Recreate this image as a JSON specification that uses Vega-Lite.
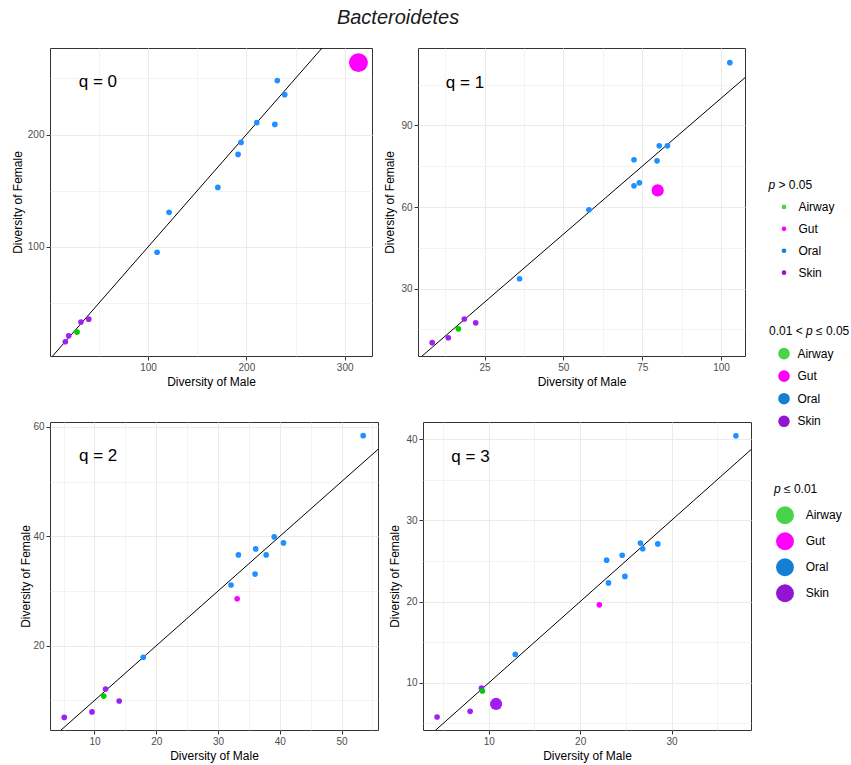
{
  "$schema": "https://vega.github.io/schema/vega-lite/v6.json",
  "padding": {"left": 10, "top": 7, "right": 5, "bottom": 5},
  "title": {"text": "Bacteroidetes", "anchor": "middle", "dx": -32, "offset": 20},
  "config": {
    "font": "Liberation Sans",
    "view": {"stroke": "#333333", "strokeWidth": 1},
    "axis": {"domain": false, "grid": true, "tickCount": 40, "tickColor": "#333333", "tickSize": 4, "tickWidth": 1, "labelColor": "#4d4d4d", "labelFontSize": 10, "labelFont": "Liberation Sans", "titleFont": "Liberation Sans", "titleFontSize": 12, "titleFontWeight": "normal", "titleColor": "#000000", "gridColor": "#ebebeb", "labelPadding": 2, "titlePadding": 4, "labelFlush": false, "labelOverlap": false},
    "title": {"fontSize": 20, "fontStyle": "italic", "fontWeight": "normal", "color": "#1a1a1a", "font": "Liberation Sans"},
    "text": {"font": "Liberation Sans"}
  },
  "datasets": {
    "pts": [
      {"q": 0, "site": "Skin", "sig": "ns", "male": 39.7, "female": 35.8},
      {"q": 0, "site": "Skin", "sig": "ns", "male": 31.8, "female": 33.2},
      {"q": 0, "site": "Skin", "sig": "ns", "male": 19.3, "female": 21.0},
      {"q": 0, "site": "Skin", "sig": "ns", "male": 15.9, "female": 15.7},
      {"q": 0, "site": "Airway", "sig": "ns", "male": 27.8, "female": 24.3},
      {"q": 0, "site": "Oral", "sig": "ns", "male": 231.5, "female": 248.0},
      {"q": 0, "site": "Oral", "sig": "ns", "male": 239.0, "female": 235.5},
      {"q": 0, "site": "Oral", "sig": "ns", "male": 210.6, "female": 210.6},
      {"q": 0, "site": "Oral", "sig": "ns", "male": 229.0, "female": 209.0},
      {"q": 0, "site": "Oral", "sig": "ns", "male": 194.6, "female": 193.0},
      {"q": 0, "site": "Oral", "sig": "ns", "male": 191.6, "female": 182.3},
      {"q": 0, "site": "Oral", "sig": "ns", "male": 171.0, "female": 153.0},
      {"q": 0, "site": "Oral", "sig": "ns", "male": 121.4, "female": 130.8},
      {"q": 0, "site": "Oral", "sig": "ns", "male": 109.2, "female": 95.3},
      {"q": 0, "site": "Gut", "sig": "high", "male": 314.0, "female": 264.0},
      {"q": 1, "site": "Skin", "sig": "ns", "male": 18.6, "female": 18.8},
      {"q": 1, "site": "Skin", "sig": "ns", "male": 22.2, "female": 17.4},
      {"q": 1, "site": "Skin", "sig": "ns", "male": 13.5, "female": 11.9},
      {"q": 1, "site": "Skin", "sig": "ns", "male": 8.4, "female": 10.1},
      {"q": 1, "site": "Airway", "sig": "ns", "male": 16.7, "female": 15.2},
      {"q": 1, "site": "Oral", "sig": "ns", "male": 102.8, "female": 113.1},
      {"q": 1, "site": "Oral", "sig": "ns", "male": 80.4, "female": 82.5},
      {"q": 1, "site": "Oral", "sig": "ns", "male": 83.0, "female": 82.5},
      {"q": 1, "site": "Oral", "sig": "ns", "male": 72.4, "female": 77.4},
      {"q": 1, "site": "Oral", "sig": "ns", "male": 79.7, "female": 77.0},
      {"q": 1, "site": "Oral", "sig": "ns", "male": 74.1, "female": 68.9},
      {"q": 1, "site": "Oral", "sig": "ns", "male": 72.4, "female": 67.8},
      {"q": 1, "site": "Oral", "sig": "ns", "male": 58.1, "female": 59.0},
      {"q": 1, "site": "Oral", "sig": "ns", "male": 36.1, "female": 33.6},
      {"q": 1, "site": "Gut", "sig": "mid", "male": 79.9, "female": 66.1},
      {"q": 2, "site": "Skin", "sig": "ns", "male": 11.8, "female": 12.1},
      {"q": 2, "site": "Skin", "sig": "ns", "male": 14.0, "female": 9.9},
      {"q": 2, "site": "Skin", "sig": "ns", "male": 9.6, "female": 7.9},
      {"q": 2, "site": "Skin", "sig": "ns", "male": 5.1, "female": 6.9},
      {"q": 2, "site": "Airway", "sig": "ns", "male": 11.5, "female": 10.8},
      {"q": 2, "site": "Oral", "sig": "ns", "male": 53.5, "female": 58.4},
      {"q": 2, "site": "Oral", "sig": "ns", "male": 39.1, "female": 39.9},
      {"q": 2, "site": "Oral", "sig": "ns", "male": 40.6, "female": 38.8},
      {"q": 2, "site": "Oral", "sig": "ns", "male": 36.1, "female": 37.7},
      {"q": 2, "site": "Oral", "sig": "ns", "male": 33.3, "female": 36.6},
      {"q": 2, "site": "Oral", "sig": "ns", "male": 37.8, "female": 36.6},
      {"q": 2, "site": "Oral", "sig": "ns", "male": 36.0, "female": 33.1},
      {"q": 2, "site": "Oral", "sig": "ns", "male": 32.1, "female": 31.1},
      {"q": 2, "site": "Oral", "sig": "ns", "male": 17.9, "female": 17.9},
      {"q": 2, "site": "Gut", "sig": "ns", "male": 33.1, "female": 28.6},
      {"q": 3, "site": "Skin", "sig": "ns", "male": 9.2, "female": 9.35},
      {"q": 3, "site": "Skin", "sig": "mid", "male": 10.8, "female": 7.4},
      {"q": 3, "site": "Skin", "sig": "ns", "male": 7.96, "female": 6.5},
      {"q": 3, "site": "Skin", "sig": "ns", "male": 4.34, "female": 5.8},
      {"q": 3, "site": "Airway", "sig": "ns", "male": 9.3, "female": 9.0},
      {"q": 3, "site": "Oral", "sig": "ns", "male": 37.05, "female": 40.4},
      {"q": 3, "site": "Oral", "sig": "ns", "male": 26.6, "female": 27.2},
      {"q": 3, "site": "Oral", "sig": "ns", "male": 28.5, "female": 27.1},
      {"q": 3, "site": "Oral", "sig": "ns", "male": 26.85, "female": 26.5},
      {"q": 3, "site": "Oral", "sig": "ns", "male": 24.6, "female": 25.7},
      {"q": 3, "site": "Oral", "sig": "ns", "male": 22.9, "female": 25.1},
      {"q": 3, "site": "Oral", "sig": "ns", "male": 24.9, "female": 23.1},
      {"q": 3, "site": "Oral", "sig": "ns", "male": 23.1, "female": 22.3},
      {"q": 3, "site": "Oral", "sig": "ns", "male": 12.9, "female": 13.5},
      {"q": 3, "site": "Gut", "sig": "ns", "male": 22.1, "female": 19.6}
    ],
    "leg": [
      {"grp": "g1", "key": "t", "pre": "", "it": "p", "post": "> 0.05"},
      {"grp": "g1", "key": "Airway", "site": "Airway"},
      {"grp": "g1", "key": "Gut", "site": "Gut"},
      {"grp": "g1", "key": "Oral", "site": "Oral"},
      {"grp": "g1", "key": "Skin", "site": "Skin"},
      {"grp": "g2", "key": "t", "pre": "0.01 <", "it": "p", "post": "≤ 0.05"},
      {"grp": "g2", "key": "Airway", "site": "Airway"},
      {"grp": "g2", "key": "Gut", "site": "Gut"},
      {"grp": "g2", "key": "Oral", "site": "Oral"},
      {"grp": "g2", "key": "Skin", "site": "Skin"},
      {"grp": "g3", "key": "t", "pre": "", "it": "p", "post": "≤ 0.01"},
      {"grp": "g3", "key": "Airway", "site": "Airway"},
      {"grp": "g3", "key": "Gut", "site": "Gut"},
      {"grp": "g3", "key": "Oral", "site": "Oral"},
      {"grp": "g3", "key": "Skin", "site": "Skin"}
    ]
  },
  "hconcat": [
    {
      "spacing": 33,
      "vconcat": [
        {
          "spacing": 10,
          "hconcat": [
            {
              "width": 322, "height": 308,
              "layer": [
                {
                  "data": {"values": [{}]},
                  "mark": {"type": "rule", "clip": true, "color": "black", "strokeWidth": 1},
                  "encoding": {
                    "x": {"datum": 0, "type": "quantitative", "title": "Diversity of Male", "scale": {"domain": [0.3, 327.8], "nice": false, "zero": false}},
                    "y": {"datum": 0, "type": "quantitative", "title": "Diversity of Female", "scale": {"domain": [3, 277], "nice": false, "zero": false}},
                    "x2": {"datum": 1000}, "y2": {"datum": 1000}
                  }
                },
                {
                  "data": {"name": "pts"},
                  "transform": [{"filter": "datum.q === 0"}],
                  "mark": {"type": "point", "filled": true, "opacity": 1, "strokeWidth": 0},
                  "encoding": {
                    "x": {"field": "male", "type": "quantitative", "title": "Diversity of Male", "scale": {"domain": [0.3, 327.8], "nice": false, "zero": false},
                      "axis": {"grid": true, "tickCount": 40, "values": [50, 100, 150, 200, 250, 300], "labelExpr": "datum.value % 100 === 0 ? datum.label : ''", "tickOpacity": {"condition": {"test": "datum.value % 100 !== 0", "value": 0}, "value": 1}, "gridWidth": {"condition": {"test": "datum.value % 100 !== 0", "value": 0.6}, "value": 1}}},
                    "y": {"field": "female", "type": "quantitative", "title": "Diversity of Female", "scale": {"domain": [3, 277], "nice": false, "zero": false},
                      "axis": {"grid": true, "tickCount": 40, "titlePadding": 3, "values": [50, 100, 150, 200, 250], "labelExpr": "datum.value % 100 === 0 ? datum.label : ''", "tickOpacity": {"condition": {"test": "datum.value % 100 !== 0", "value": 0}, "value": 1}, "gridWidth": {"condition": {"test": "datum.value % 100 !== 0", "value": 0.6}, "value": 1}}},
                    "color": {"field": "site", "type": "nominal", "scale": {"domain": ["Airway", "Gut", "Oral", "Skin"], "range": ["#00cd00", "#ff00ff", "#1e90ff", "#a020f0"]}, "legend": null},
                    "size": {"field": "sig", "type": "nominal", "scale": {"type": "ordinal", "domain": ["ns", "mid", "high"], "range": [32, 150, 360]}, "legend": null}
                  }
                },
                {
                  "data": {"values": [{}]},
                  "mark": {"type": "text", "fontSize": 17, "color": "black", "align": "center", "baseline": "middle"},
                  "encoding": {
                    "x": {"datum": 49, "type": "quantitative", "title": "Diversity of Male", "scale": {"domain": [0.3, 327.8], "nice": false, "zero": false}},
                    "y": {"datum": 246.4, "type": "quantitative", "title": "Diversity of Female", "scale": {"domain": [3, 277], "nice": false, "zero": false}},
                    "text": {"value": "q = 0"}
                  }
                }
              ]
            },
            {
              "width": 327, "height": 308,
              "layer": [
                {
                  "data": {"values": [{}]},
                  "mark": {"type": "rule", "clip": true, "color": "black", "strokeWidth": 1},
                  "encoding": {
                    "x": {"datum": 0, "type": "quantitative", "title": "Diversity of Male", "scale": {"domain": [3.9, 107.6], "nice": false, "zero": false}},
                    "y": {"datum": 0, "type": "quantitative", "title": "Diversity of Female", "scale": {"domain": [5.2, 118.5], "nice": false, "zero": false}},
                    "x2": {"datum": 1000}, "y2": {"datum": 1000}
                  }
                },
                {
                  "data": {"name": "pts"},
                  "transform": [{"filter": "datum.q === 1"}],
                  "mark": {"type": "point", "filled": true, "opacity": 1, "strokeWidth": 0},
                  "encoding": {
                    "x": {"field": "male", "type": "quantitative", "title": "Diversity of Male", "scale": {"domain": [3.9, 107.6], "nice": false, "zero": false},
                      "axis": {"grid": true, "tickCount": 40, "values": [12.5, 25, 37.5, 50, 62.5, 75, 87.5, 100], "labelExpr": "datum.value % 25 === 0 ? datum.label : ''", "tickOpacity": {"condition": {"test": "datum.value % 25 !== 0", "value": 0}, "value": 1}, "gridWidth": {"condition": {"test": "datum.value % 25 !== 0", "value": 0.6}, "value": 1}}},
                    "y": {"field": "female", "type": "quantitative", "title": "Diversity of Female", "scale": {"domain": [5.2, 118.5], "nice": false, "zero": false},
                      "axis": {"grid": true, "tickCount": 40, "values": [15, 30, 45, 60, 75, 90, 105], "labelExpr": "datum.value % 30 === 0 ? datum.label : ''", "tickOpacity": {"condition": {"test": "datum.value % 30 !== 0", "value": 0}, "value": 1}, "gridWidth": {"condition": {"test": "datum.value % 30 !== 0", "value": 0.6}, "value": 1}}},
                    "color": {"field": "site", "type": "nominal", "scale": {"domain": ["Airway", "Gut", "Oral", "Skin"], "range": ["#00cd00", "#ff00ff", "#1e90ff", "#a020f0"]}, "legend": null},
                    "size": {"field": "sig", "type": "nominal", "scale": {"type": "ordinal", "domain": ["ns", "mid", "high"], "range": [32, 150, 360]}, "legend": null}
                  }
                },
                {
                  "data": {"values": [{}]},
                  "mark": {"type": "text", "fontSize": 17, "color": "black", "align": "center", "baseline": "middle"},
                  "encoding": {
                    "x": {"datum": 18.8, "type": "quantitative", "title": "Diversity of Male", "scale": {"domain": [3.9, 107.6], "nice": false, "zero": false}},
                    "y": {"datum": 105.8, "type": "quantitative", "title": "Diversity of Female", "scale": {"domain": [5.2, 118.5], "nice": false, "zero": false}},
                    "text": {"value": "q = 1"}
                  }
                }
              ]
            }
          ]
        },
        {
          "spacing": 9,
          "hconcat": [
            {
              "width": 328, "height": 308,
              "layer": [
                {
                  "data": {"values": [{}]},
                  "mark": {"type": "rule", "clip": true, "color": "black", "strokeWidth": 1},
                  "encoding": {
                    "x": {"datum": 0, "type": "quantitative", "title": "Diversity of Male", "scale": {"domain": [2.8, 55.9], "nice": false, "zero": false}},
                    "y": {"datum": 0, "type": "quantitative", "title": "Diversity of Female", "scale": {"domain": [4.6, 60.9], "nice": false, "zero": false}},
                    "x2": {"datum": 1000}, "y2": {"datum": 1000}
                  }
                },
                {
                  "data": {"name": "pts"},
                  "transform": [{"filter": "datum.q === 2"}],
                  "mark": {"type": "point", "filled": true, "opacity": 1, "strokeWidth": 0},
                  "encoding": {
                    "x": {"field": "male", "type": "quantitative", "title": "Diversity of Male", "scale": {"domain": [2.8, 55.9], "nice": false, "zero": false},
                      "axis": {"grid": true, "tickCount": 40, "values": [5, 10, 15, 20, 25, 30, 35, 40, 45, 50, 55], "labelExpr": "datum.value % 10 === 0 ? datum.label : ''", "tickOpacity": {"condition": {"test": "datum.value % 10 !== 0", "value": 0}, "value": 1}, "gridWidth": {"condition": {"test": "datum.value % 10 !== 0", "value": 0.6}, "value": 1}}},
                    "y": {"field": "female", "type": "quantitative", "title": "Diversity of Female", "scale": {"domain": [4.6, 60.9], "nice": false, "zero": false},
                      "axis": {"grid": true, "tickCount": 40, "titlePadding": 0, "values": [10, 20, 30, 40, 50, 60], "labelExpr": "datum.value % 20 === 0 ? datum.label : ''", "tickOpacity": {"condition": {"test": "datum.value % 20 !== 0", "value": 0}, "value": 1}, "gridWidth": {"condition": {"test": "datum.value % 20 !== 0", "value": 0.6}, "value": 1}}},
                    "color": {"field": "site", "type": "nominal", "scale": {"domain": ["Airway", "Gut", "Oral", "Skin"], "range": ["#00cd00", "#ff00ff", "#1e90ff", "#a020f0"]}, "legend": null},
                    "size": {"field": "sig", "type": "nominal", "scale": {"type": "ordinal", "domain": ["ns", "mid", "high"], "range": [32, 150, 360]}, "legend": null}
                  }
                },
                {
                  "data": {"values": [{}]},
                  "mark": {"type": "text", "fontSize": 17, "color": "black", "align": "center", "baseline": "middle"},
                  "encoding": {
                    "x": {"datum": 10.6, "type": "quantitative", "title": "Diversity of Male", "scale": {"domain": [2.8, 55.9], "nice": false, "zero": false}},
                    "y": {"datum": 54.6, "type": "quantitative", "title": "Diversity of Female", "scale": {"domain": [4.6, 60.9], "nice": false, "zero": false}},
                    "text": {"value": "q = 2"}
                  }
                }
              ]
            },
            {
              "width": 328, "height": 308,
              "layer": [
                {
                  "data": {"values": [{}]},
                  "mark": {"type": "rule", "clip": true, "color": "black", "strokeWidth": 1},
                  "encoding": {
                    "x": {"datum": 0, "type": "quantitative", "title": "Diversity of Male", "scale": {"domain": [2.8, 38.7], "nice": false, "zero": false}},
                    "y": {"datum": 0, "type": "quantitative", "title": "Diversity of Female", "scale": {"domain": [4.2, 42.1], "nice": false, "zero": false}},
                    "x2": {"datum": 1000}, "y2": {"datum": 1000}
                  }
                },
                {
                  "data": {"name": "pts"},
                  "transform": [{"filter": "datum.q === 3"}],
                  "mark": {"type": "point", "filled": true, "opacity": 1, "strokeWidth": 0},
                  "encoding": {
                    "x": {"field": "male", "type": "quantitative", "title": "Diversity of Male", "scale": {"domain": [2.8, 38.7], "nice": false, "zero": false},
                      "axis": {"grid": true, "tickCount": 40, "values": [5, 10, 15, 20, 25, 30, 35], "labelExpr": "datum.value % 10 === 0 ? datum.label : ''", "tickOpacity": {"condition": {"test": "datum.value % 10 !== 0", "value": 0}, "value": 1}, "gridWidth": {"condition": {"test": "datum.value % 10 !== 0", "value": 0.6}, "value": 1}}},
                    "y": {"field": "female", "type": "quantitative", "title": "Diversity of Female", "scale": {"domain": [4.2, 42.1], "nice": false, "zero": false},
                      "axis": {"grid": true, "tickCount": 40, "values": [5, 10, 15, 20, 25, 30, 35, 40], "labelExpr": "datum.value % 10 === 0 ? datum.label : ''", "tickOpacity": {"condition": {"test": "datum.value % 10 !== 0", "value": 0}, "value": 1}, "gridWidth": {"condition": {"test": "datum.value % 10 !== 0", "value": 0.6}, "value": 1}}},
                    "color": {"field": "site", "type": "nominal", "scale": {"domain": ["Airway", "Gut", "Oral", "Skin"], "range": ["#00cd00", "#ff00ff", "#1e90ff", "#a020f0"]}, "legend": null},
                    "size": {"field": "sig", "type": "nominal", "scale": {"type": "ordinal", "domain": ["ns", "mid", "high"], "range": [32, 150, 360]}, "legend": null}
                  }
                },
                {
                  "data": {"values": [{}]},
                  "mark": {"type": "text", "fontSize": 17, "color": "black", "align": "center", "baseline": "middle"},
                  "encoding": {
                    "x": {"datum": 8.0, "type": "quantitative", "title": "Diversity of Male", "scale": {"domain": [2.8, 38.7], "nice": false, "zero": false}},
                    "y": {"datum": 37.8, "type": "quantitative", "title": "Diversity of Female", "scale": {"domain": [4.2, 42.1], "nice": false, "zero": false}},
                    "text": {"value": "q = 3"}
                  }
                }
              ]
            }
          ]
        }
      ]
    },
    {
      "width": 80, "height": 560,
      "view": {"stroke": null},
      "data": {"name": "leg"},
      "encoding": {
        "color": {"field": "site", "type": "nominal", "scale": {"domain": ["Airway", "Gut", "Oral", "Skin"], "range": ["#48d448", "#ff00ff", "#1380d6", "#9414d4"]}, "legend": null},
        "size": {"field": "grp", "type": "nominal", "scale": {"type": "ordinal", "domain": ["g1", "g2", "g3"], "range": [22, 135, 320]}, "legend": null}
      },
      "layer": [
        {
          "transform": [{"filter": "datum.grp === 'g1'"}],
          "encoding": {"y": {"field": "key", "type": "nominal", "scale": {"domain": ["t", "Airway", "Gut", "Oral", "Skin"], "range": [137, 224.7], "padding": 0}, "axis": null}},
          "layer": [
            {"transform": [{"filter": "datum.key !== 't'"}], "mark": {"type": "point", "filled": true, "opacity": 1, "strokeWidth": 0},
             "encoding": {"x": {"datum": 16, "type": "quantitative", "scale": {"domain": [0, 80], "nice": false, "zero": false}, "axis": null}}},
            {"transform": [{"filter": "datum.key !== 't'"}], "mark": {"type": "text", "fontSize": 12, "align": "left", "baseline": "middle"},
             "encoding": {"x": {"datum": 30.4, "type": "quantitative", "axis": null}, "text": {"field": "key"}, "color": {"value": "black"}, "size": {"value": 12}}},
            {"transform": [{"filter": "datum.key === 't'"}], "mark": {"type": "text", "fontSize": 12, "fontStyle": "italic", "align": "left", "baseline": "middle"},
             "encoding": {"x": {"datum": 0.4, "type": "quantitative", "axis": null}, "text": {"field": "it"}, "color": {"value": "black"}, "size": {"value": 12}}},
            {"transform": [{"filter": "datum.key === 't'"}], "mark": {"type": "text", "fontSize": 12, "align": "left", "baseline": "middle"},
             "encoding": {"x": {"datum": 10.4, "type": "quantitative", "axis": null}, "text": {"field": "post"}, "color": {"value": "black"}, "size": {"value": 12}}}
          ]
        },
        {
          "transform": [{"filter": "datum.grp === 'g2'"}],
          "encoding": {"y": {"field": "key", "type": "nominal", "scale": {"domain": ["t", "Airway", "Gut", "Oral", "Skin"], "range": [283, 373.3], "padding": 0}, "axis": null}},
          "layer": [
            {"transform": [{"filter": "datum.key !== 't'"}], "mark": {"type": "point", "filled": true, "opacity": 1, "strokeWidth": 0},
             "encoding": {"x": {"datum": 16, "type": "quantitative", "scale": {"domain": [0, 80], "nice": false, "zero": false}, "axis": null}}},
            {"transform": [{"filter": "datum.key !== 't'"}], "mark": {"type": "text", "fontSize": 12, "align": "left", "baseline": "middle"},
             "encoding": {"x": {"datum": 29.4, "type": "quantitative", "axis": null}, "text": {"field": "key"}, "color": {"value": "black"}, "size": {"value": 12}}},
            {"transform": [{"filter": "datum.key === 't'"}], "mark": {"type": "text", "fontSize": 12, "align": "left", "baseline": "middle"},
             "encoding": {"x": {"datum": 1, "type": "quantitative", "axis": null}, "text": {"field": "pre"}, "color": {"value": "black"}, "size": {"value": 12}}},
            {"transform": [{"filter": "datum.key === 't'"}], "mark": {"type": "text", "fontSize": 12, "fontStyle": "italic", "align": "left", "baseline": "middle"},
             "encoding": {"x": {"datum": 38, "type": "quantitative", "axis": null}, "text": {"field": "it"}, "color": {"value": "black"}, "size": {"value": 12}}},
            {"transform": [{"filter": "datum.key === 't'"}], "mark": {"type": "text", "fontSize": 12, "align": "left", "baseline": "middle"},
             "encoding": {"x": {"datum": 48, "type": "quantitative", "axis": null}, "text": {"field": "post"}, "color": {"value": "black"}, "size": {"value": 12}}}
          ]
        },
        {
          "transform": [{"filter": "datum.grp === 'g3'"}],
          "encoding": {"y": {"field": "key", "type": "nominal", "scale": {"domain": ["t", "Airway", "Gut", "Oral", "Skin"], "range": [441.3, 545.3], "padding": 0}, "axis": null}},
          "layer": [
            {"transform": [{"filter": "datum.key !== 't'"}], "mark": {"type": "point", "filled": true, "opacity": 1, "strokeWidth": 0},
             "encoding": {"x": {"datum": 17, "type": "quantitative", "scale": {"domain": [0, 80], "nice": false, "zero": false}, "axis": null}}},
            {"transform": [{"filter": "datum.key !== 't'"}], "mark": {"type": "text", "fontSize": 12, "align": "left", "baseline": "middle"},
             "encoding": {"x": {"datum": 37.7, "type": "quantitative", "axis": null}, "text": {"field": "key"}, "color": {"value": "black"}, "size": {"value": 12}}},
            {"transform": [{"filter": "datum.key === 't'"}], "mark": {"type": "text", "fontSize": 12, "fontStyle": "italic", "align": "left", "baseline": "middle"},
             "encoding": {"x": {"datum": 6, "type": "quantitative", "axis": null}, "text": {"field": "it"}, "color": {"value": "black"}, "size": {"value": 12}}},
            {"transform": [{"filter": "datum.key === 't'"}], "mark": {"type": "text", "fontSize": 12, "align": "left", "baseline": "middle"},
             "encoding": {"x": {"datum": 16, "type": "quantitative", "axis": null}, "text": {"field": "post"}, "color": {"value": "black"}, "size": {"value": 12}}}
          ]
        }
      ],
      "resolve": {"scale": {"y": "independent"}}
    }
  ],
  "spacing": 16,
  "resolve": {"scale": {"color": "independent", "size": "independent"}}
}
